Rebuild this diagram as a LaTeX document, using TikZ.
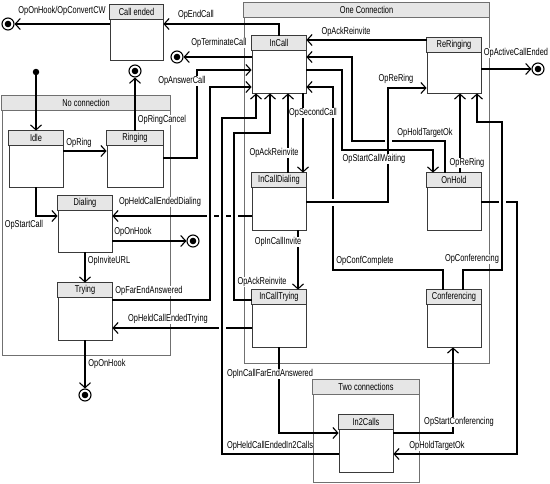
\documentclass[tikz,border=0pt]{standalone}
\usepackage{fontspec}
\setmainfont{Liberation Sans}[FakeStretch=0.74]
\usetikzlibrary{arrows.meta}
\definecolor{hdr}{HTML}{E6E6E6}
\definecolor{boxc}{HTML}{3A3A3A}
\definecolor{contc}{HTML}{707070}
\tikzset{
  conn/.style={line width=1.1pt, draw=black},
  arr/.style={conn, -{Straight Barb[length=5pt,width=11pt]}},
  lbl/.style={fill=white, inner sep=0.5pt, font=\fontsize{10}{11}\selectfont},
  hdrtext/.style={inner sep=0pt, font=\fontsize{10}{11}\selectfont},
  statebox/.style={draw=boxc, line width=0.8pt, fill=white, inner sep=0pt},
  contbox/.style={draw=contc, line width=0.8pt, fill=white, inner sep=0pt},
  boxline/.style={draw=boxc, line width=0.8pt},
  contline/.style={draw=contc, line width=0.8pt},
  final/.style={circle, draw=black, line width=1.1pt, fill=white, minimum size=12pt, inner sep=0pt,
    path picture={\fill[black] (path picture bounding box.center) circle (3.3pt);}},
  initial/.style={circle, fill=black, minimum size=6.5pt, inner sep=0pt},
  gap/.style={draw=white, line width=3.5pt},
}
\newcommand\mkstate[6]{%
  \node[statebox, minimum width={(#4)-(#2)}, minimum height={(#5)-(#3)}] (#1) at ({((#2)+(#4))/2},{((#3)+(#5))/2}) {};
  \draw[boxline, fill=hdr] (#1.north west) rectangle ([yshift=-15pt]#1.north east);
  \node[hdrtext] (#1-t) at ([yshift=-7.5pt]#1.north) {#6};}
\newcommand\mkcont[6]{%
  \node[contbox, minimum width={(#4)-(#2)}, minimum height={(#5)-(#3)}] (#1) at ({((#2)+(#4))/2},{((#3)+(#5))/2}) {};
  \draw[contline, fill=hdr] (#1.north west) rectangle ([yshift=-15pt]#1.north east);
  \node[hdrtext] (#1-t) at ([yshift=-7.5pt]#1.north) {#6};}
\begin{document}
\begin{tikzpicture}[x=1pt,y=-1pt]
\useasboundingbox (0,0) rectangle (550,483);
\fill[white] (0,0) rectangle (550,483);
% containers
\mkcont{noconn}{2}{96}{170}{355}{No connection}
\mkcont{onec}{244}{3}{489}{363}{One Connection}
\mkcont{twoc}{313}{380}{419}{482}{Two connections}
% states
\mkstate{callended}{110}{5}{163}{60}{Call ended}
\mkstate{idle}{9}{131}{63}{187}{Idle}
\mkstate{ringing}{107}{131}{163}{187}{Ringing}
\mkstate{dialing}{58}{196}{112}{252}{Dialing}
\mkstate{trying}{58}{283}{112}{340}{Trying}
\mkstate{incall}{252}{36}{306}{93}{InCall}
\mkstate{rering}{427}{38}{481}{93}{ReRinging}
\mkstate{icdial}{252}{173}{306}{230}{InCallDialing}
\mkstate{onhold}{427}{173}{481}{230}{OnHold}
\mkstate{ictry}{252}{290}{306}{347}{InCallTrying}
\mkstate{conf}{427}{290}{481}{347}{Conferencing}
\mkstate{in2}{339}{415}{393}{472}{In2Calls}
% pseudo states
\node[initial] (init) at (36,72) {};
\node[final] (f1) at (8,24) {};
\node[final] (f2) at (177,57) {};
\node[final] (f3) at (135,71) {};
\node[final] (f4) at (193,241) {};
\node[final] (f5) at (85,395) {};
\node[final] (f6) at (538,69) {};
% connectors that get crossed with a gap
\draw[arr] (ictry.west |- 0,328) -- (trying.east |- 0,328);
\draw[arr] (icdial.west |- 0,216) -- (dialing.east |- 0,216);
\draw[arr] (conf.north -| 443,0) -- (443,270) -- (333,270) -- (333,87) -- (incall.east |- 0,87);
\draw[arr] (onhold.north -| 445,0) -- (445,141) -- (352,141) -- (352,57) -- (incall.east |- 0,57);
\draw[arr] (onhold.east |- 0,202) -- (517,202) -- (517,454) -- (in2.east |- 0,454);
% gaps
\draw[gap] (206.5,216) -- (213.5,216);
\draw[gap] (218.5,216) -- (225.5,216);
\draw[gap] (230.5,216) -- (237.5,216);
\draw[gap] (218.5,328) -- (225.5,328);
\draw[gap] (333,198.5) -- (333,205.5);
\draw[gap] (384.5,141) -- (391.5,141);
\draw[gap] (498.5,202) -- (505.5,202);
% other connectors
\draw[arr] (callended.west |- 0,24) -- (f1);
\draw[arr] (incall.north) |- (callended.east |- 0,24);
\draw[arr] (incall.west |- 0,57) -- (f2);
\draw[arr] (ringing.east |- 0,158) -- (197,158) -- (197,70) -- (incall.west |- 0,70);
\draw[arr] (trying.east |- 0,300) -- (210,300) -- (210,87) -- (incall.west |- 0,87);
\draw[arr] (in2.west |- 0,454) -- (222,454) -- (222,118) -- (256,118) -- (incall.south -| 256,0);
\draw[arr] (ictry.west |- 0,300) -- (234,300) -- (234,133) -- (270,133) -- (incall.south -| 270,0);
\draw[arr] (icdial.north -| 288,0) -- (incall.south -| 288,0);
\draw[arr] (incall.south -| 303,0) -- (icdial.north -| 303,0);
\draw[arr] (rering.west |- 0,40) -- (incall.east |- 0,40);
\draw[arr] (incall.east |- 0,70) -- (342,70) -- (342,150) -- (433,150) -- (onhold.north -| 433,0);
\draw[arr] (icdial.east |- 0,202) -- (388,202) -- (388,88) -- (rering.west |- 0,88);
\draw[arr] (onhold.north -| 460,0) -- (rering.south -| 460,0);
\draw[arr] (conf.north -| 463,0) -- (463,270) -- (502,270) -- (502,122) -- (477,122) -- (rering.south -| 477,0);
\draw[arr] (rering.east |- 0,69) -- (f6);
\draw[arr] (in2.east |- 0,433) -- (453,433) -- (conf.south -| 453,0);
\draw[arr] (ictry.south -| 279,0) -- (279,433) -- (in2.west |- 0,433);
\draw[arr] (icdial.south -| 298,0) -- (ictry.north -| 298,0);
\draw[arr] (init) -- (idle.north);
\draw[arr] (idle.east |- 0,151) -- (ringing.west |- 0,151);
\draw[arr] (ringing.north) -- (f3);
\draw[arr] (idle.south) |- (dialing.west |- 0,216);
\draw[arr] (dialing.east |- 0,241) -- (f4);
\draw[arr] (dialing.south) -- (trying.north);
\draw[arr] (trying.south) -- (f5);
% labels
\node[lbl] (l1) at (62,11) {OpOnHook/OpConvertCW};
\node[lbl] (l2) at (196,15) {OpEndCall};
\node[lbl] (l3) at (219,43) {OpTerminateCall};
\node[lbl] (l4) at (182,81) {OpAnswerCall};
\node[lbl] (l5) at (79,143) {OpRing};
\node[lbl] (l6) at (162,120) {OpRingCancel};
\node[lbl] (l7) at (24,225) {OpStartCall};
\node[lbl] (l8) at (160,202) {OpHeldCallEndedDialing};
\node[lbl] (l9) at (133,232) {OpOnHook};
\node[lbl] (l10) at (109,261) {OpInviteURL};
\node[lbl] (l11) at (149,291) {OpFarEndAnswered};
\node[lbl] (l12) at (168,319) {OpHeldCallEndedTrying};
\node[lbl] (l13) at (107,364) {OpOnHook};
\node[lbl] (l14) at (346,32) {OpAckReinvite};
\node[lbl] (l15) at (516,53) {OpActiveCallEnded};
\node[lbl] (l16) at (313,113) {OpSecondCall};
\node[lbl] (l17) at (396,79) {OpReRing};
\node[lbl] (l18) at (425,133) {OpHoldTargetOk};
\node[lbl] (l19) at (374,159) {OpStartCallWaiting};
\node[lbl] (l20) at (274,153) {OpAckReinvite};
\node[lbl] (l21) at (467,163) {OpReRing};
\node[lbl] (l22) at (278,242) {OpInCallInvite};
\node[lbl] (l23) at (365,261) {OpConfComplete};
\node[lbl] (l24) at (472,259) {OpConferencing};
\node[lbl] (l25) at (262,282) {OpAckReinvite};
\node[lbl] (l26) at (270,374) {OpInCallFarEndAnswered};
\node[lbl] (l27) at (459,422) {OpStartConferencing};
\node[lbl] (l28) at (270,446) {OpHeldCallEndedIn2Calls};
\node[lbl] (l29) at (437,446) {OpHoldTargetOk};
\end{tikzpicture}
\end{document}
